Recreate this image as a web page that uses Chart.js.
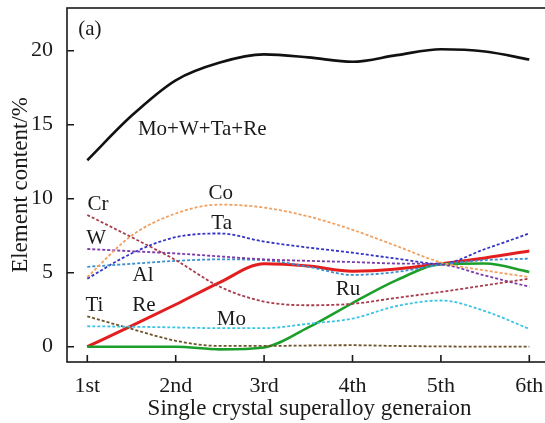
<!DOCTYPE html>
<html>
<head>
<meta charset="utf-8">
<script src="https://cdn.jsdelivr.net/npm/chart.js@4.4.1/dist/chart.umd.min.js"></script>
<style>
  html, body { margin: 0; padding: 0; background: #fff; overflow: hidden; }
  #wrap { width: 552px; height: 423px; position: relative; }
</style>
</head>
<body>
<div id="wrap"><canvas id="alloyChart"></canvas></div>
<script>
const gens = [1, 1.5, 2, 2.5, 3, 3.5, 4, 4.5, 5, 5.5, 6];
const genTicks = [1, 2, 3, 4, 5, 6];
const genLabels = ['1st', '2nd', '3rd', '4th', '5th', '6th'];
const yTicks = [0, 5, 10, 15, 20];

const total = [12.6, 15.6, 18.0, 19.2, 19.75, 19.55, 19.25, 19.7, 20.1, 19.95, 19.4];
const co = [4.7, 7.5, 9.0, 9.6, 9.4, 8.8, 7.9, 6.8, 5.7, 5.15, 4.7];
const cr = [8.9, 7.4, 5.85, 4.05, 3.05, 2.8, 2.9, 3.3, 3.7, 4.15, 4.6];
const ta = [4.6, 6.3, 7.4, 7.65, 7.1, 6.7, 6.35, 5.95, 5.6, 6.6, 7.65];
const w = [6.6, 6.45, 6.3, 6.1, 5.9, 5.8, 5.72, 5.62, 5.55, 4.8, 4.05];
const al = [5.4, 5.6, 5.8, 5.9, 5.85, 5.4, 4.85, 5.05, 5.55, 5.85, 5.95];
const mo = [1.38, 1.35, 1.3, 1.25, 1.25, 1.55, 1.9, 2.75, 3.12, 2.4, 1.2];
const ti = [2.05, 1.2, 0.4, 0.05, 0.05, 0.08, 0.1, 0.05, 0.02, 0.0, 0.0];
const re = [0, 1.4, 2.85, 4.35, 5.6, 5.45, 5.1, 5.25, 5.6, 6.0, 6.47];
const ru = [0, 0, 0, -0.18, -0.05, 1.3, 2.95, 4.5, 5.57, 5.62, 5.05];

// curve labels: [text, generation, value]
const curveLabels = [
    ['(a)', 1.03, 21.45],
    ['Mo+W+Ta+Re', 2.3, 14.66],
    ['Co', 2.51, 10.38],
    ['Cr', 1.12, 9.58],
    ['Ta', 2.52, 8.3],
    ['W', 1.1, 7.29],
    ['Al', 1.63, 4.79],
    ['Ti', 1.08, 2.77],
    ['Re', 1.64, 2.77],
    ['Mo', 2.63, 1.83],
    ['Ru', 3.95, 3.85]
];

const serif = '"Liberation Serif", "Times New Roman", serif';

function pts(arr) {
    return gens.map((g, i) => ({ x: g, y: arr[i] }));
}

function solid(label, arr, color, width) {
    return { label: label, data: pts(arr), borderColor: color, borderWidth: width,
             pointRadius: 0, fill: false, cubicInterpolationMode: 'monotone' };
}

function dashed(label, arr, color) {
    return { label: label, data: pts(arr), borderColor: color, borderWidth: 1.8,
             borderDash: [3, 2], pointRadius: 0, fill: false, cubicInterpolationMode: 'monotone' };
}

function noPad(s) {
    s.paddingTop = 0;
    s.paddingBottom = 0;
    s.paddingLeft = 0;
    s.paddingRight = 0;
}

const frameAndLabels = {
    id: 'frameAndLabels',
    afterDraw(chart) {
        const ctx = chart.ctx;
        const area = chart.chartArea;
        const xs = chart.scales.x;
        const ys = chart.scales.y;
        ctx.save();
        ctx.strokeStyle = '#1a1a1a';
        ctx.lineWidth = 1.6;
        ctx.strokeRect(area.left, area.top, area.right - area.left, area.bottom - area.top);
        // inward tick marks
        ctx.beginPath();
        genTicks.forEach(g => {
            const px = xs.getPixelForValue(g);
            ctx.moveTo(px, area.bottom);
            ctx.lineTo(px, area.bottom - 7);
        });
        yTicks.forEach(v => {
            const py = ys.getPixelForValue(v);
            ctx.moveTo(area.left, py);
            ctx.lineTo(area.left + 7, py);
        });
        ctx.stroke();
        // curve names
        ctx.fillStyle = '#1a1a1a';
        ctx.font = '21px ' + serif;
        ctx.textAlign = 'center';
        ctx.textBaseline = 'middle';
        curveLabels.forEach(([t, g, v]) => {
            ctx.fillText(t, xs.getPixelForValue(g), ys.getPixelForValue(v));
        });
        ctx.restore();
    }
};

const ctx = document.getElementById('alloyChart').getContext('2d');

new Chart(ctx, {
    type: 'line',
    data: {
        datasets: [
            dashed('Co', co, '#f0a060'),
            dashed('Cr', cr, '#a83c4c'),
            dashed('W', w, '#7a3aa8'),
            dashed('Al', al, '#3a8fd0'),
            dashed('Ta', ta, '#3434c4'),
            dashed('Mo', mo, '#3cc4e4'),
            dashed('Ti', ti, '#6e5228'),
            solid('Ru', ru, '#1c9e2a', 2.6),
            solid('Re', re, '#e41e1e', 3),
            solid('Mo+W+Ta+Re', total, '#111111', 2.6)
        ]
    },
    options: {
        responsive: true,
        maintainAspectRatio: false,
        animation: false,
        layout: { padding: { top: 8, right: 0, bottom: 0, left: 0 } },
        scales: {
            x: {
                type: 'linear',
                min: 0.7704,
                max: 6.2568,
                afterFit: s => { s.height = 61; noPad(s); },
                afterBuildTicks: s => { s.ticks = genTicks.map(v => ({ value: v })); },
                grid: { display: false },
                border: { display: false },
                ticks: {
                    padding: 3,
                    color: '#1a1a1a',
                    font: { family: serif, size: 22 },
                    callback: v => genLabels[genTicks.indexOf(v)]
                },
                title: {
                    display: true,
                    text: 'Single crystal superalloy generaion',
                    color: '#1a1a1a',
                    font: { family: serif, size: 23 },
                    padding: { top: 0, bottom: 0 }
                }
            },
            y: {
                min: -1.034,
                max: 22.885,
                afterFit: s => { s.width = 67; noPad(s); },
                afterBuildTicks: s => { s.ticks = yTicks.map(v => ({ value: v })); },
                grid: { display: false },
                border: { display: false },
                ticks: {
                    padding: 6,
                    color: '#1a1a1a',
                    font: { family: serif, size: 22 }
                },
                title: {
                    display: true,
                    text: 'Element content/%',
                    color: '#1a1a1a',
                    font: { family: serif, size: 23 },
                    padding: { top: 7, bottom: 0 }
                }
            }
        },
        plugins: {
            legend: { display: false },
            tooltip: { enabled: false }
        }
    },
    plugins: [frameAndLabels]
});
</script>
</body>
</html>
